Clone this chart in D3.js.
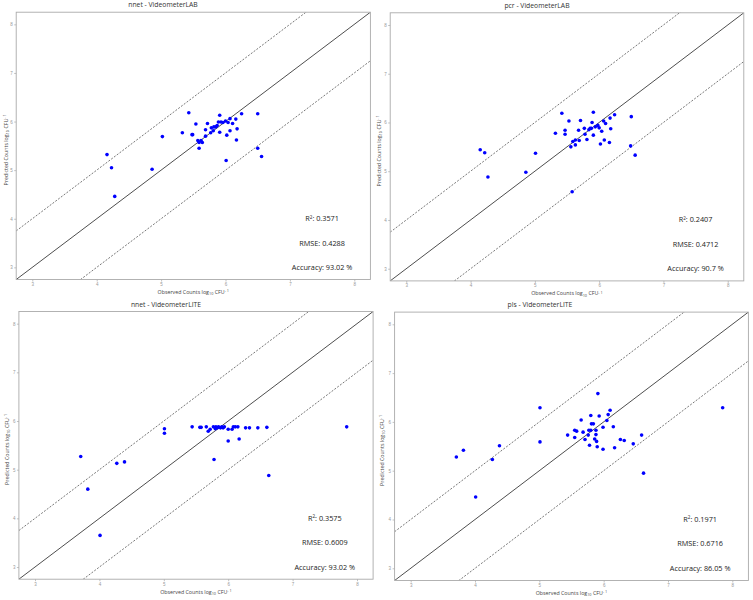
<!DOCTYPE html>
<html>
<head>
<meta charset="utf-8">
<script src="https://cdn.jsdelivr.net/npm/d3@7"></script>
<style>
  body { margin: 0; background: #fff; }
  svg { display: block; font-family: "Open Sans", "Noto Sans", sans-serif; }
</style>
</head>
<body>
<svg id="chart" width="753" height="600"></svg>
<script>
// observed / predicted values
var nnetLabObs  = [4.16,4.23,4.28,4.86,5.02,5.33,5.43,5.48,5.49,5.54,5.57,5.59,5.59,5.62,5.64,5.69,5.69,5.72,5.77,5.78,5.81,5.82,5.85,5.87,5.89,5.91,5.91,5.93,5.96,6.00,6.01,6.02,6.04,6.07,6.07,6.11,6.16,6.17,6.18,6.25,6.50,6.50,6.56];
var nnetLabPred = [5.32,5.05,4.46,5.02,5.69,5.77,6.18,5.73,5.73,5.95,5.61,5.57,5.45,5.61,5.57,5.70,5.83,5.96,5.77,5.87,5.81,5.89,5.89,5.92,5.99,6.13,5.78,5.99,5.98,6.01,5.20,5.72,5.98,6.06,5.81,5.96,6.05,5.62,5.85,6.16,6.16,5.45,5.28];

var pcrLabObs  = [4.15,4.22,4.27,4.86,5.01,5.32,5.42,5.47,5.47,5.53,5.56,5.59,5.63,5.63,5.68,5.69,5.71,5.77,5.78,5.81,5.84,5.86,5.88,5.89,5.91,5.91,5.94,5.98,6.00,6.02,6.04,6.07,6.08,6.10,6.17,6.16,6.18,6.24,6.50,6.49,6.56,5.58];
var pcrLabPred = [5.44,5.38,4.88,4.98,5.37,5.78,6.19,5.84,5.76,6.03,5.50,5.61,5.54,5.64,5.84,5.63,6.04,5.88,5.76,5.65,5.85,5.88,5.88,6.00,6.21,5.74,5.91,5.94,5.89,5.56,5.82,6.03,5.64,5.98,6.09,5.59,5.87,6.16,6.12,5.52,5.33,4.58];

var nnetLiteObs  = [3.71,3.82,4.01,4.27,4.39,5.01,5.01,5.44,5.56,5.58,5.66,5.69,5.72,5.77,5.78,5.80,5.81,5.83,5.85,5.88,5.90,5.92,5.94,6.00,6.00,6.06,6.08,6.11,6.15,6.17,6.27,6.33,6.46,6.60,6.63,7.84];
var nnetLitePred = [5.27,4.60,3.65,5.13,5.16,5.84,5.75,5.88,5.87,5.87,5.88,5.79,5.83,5.88,5.21,5.84,5.88,5.86,5.88,5.86,5.88,5.86,5.88,5.83,5.59,5.83,5.88,5.88,5.88,5.63,5.86,5.86,5.86,5.87,4.88,5.88];

var plsLiteObs  = [3.71,3.82,4.01,4.27,4.38,5.01,5.01,5.44,5.55,5.58,5.55,5.65,5.68,5.71,5.76,5.77,5.78,5.80,5.80,5.81,5.84,5.86,5.88,5.88,5.89,5.90,5.91,5.93,5.99,5.99,6.05,6.07,6.10,6.15,6.17,6.26,6.32,6.46,6.59,6.62,7.85];
var plsLitePred = [5.28,5.42,4.46,5.23,5.51,6.29,5.59,5.73,5.83,5.81,5.68,6.04,5.79,5.64,5.73,5.83,5.52,6.13,5.83,5.96,5.96,5.65,5.74,5.83,5.60,5.49,6.58,6.12,5.89,5.44,6.03,6.15,6.24,5.90,5.47,5.64,5.62,5.55,5.73,4.95,6.29];

var titles = ["nnet - VideometerLAB", "pcr - VideometerLAB", "nnet - VideometerLITE", "pls - VideometerLITE"];
var r2Values = ["0.3571", "0.2407", "0.3575", "0.1971"];
var rmseValues = ["0.4288", "0.4712", "0.6009", "0.6716"];
var accValues = ["93.02 %", "90.7 %", "93.02 %", "86.05 %"];
var tickValues = [3, 4, 5, 6, 7, 8];
var domain = [2.75, 8.25];
var bandOffsets = [-1, 0, 1];

var series = [
    [nnetLabObs, nnetLabPred],
    [pcrLabObs, pcrLabPred],
    [nnetLiteObs, nnetLitePred],
    [plsLiteObs, plsLitePred]
];

// panel frames (pixels)
var frames = [
    {x0: 16.2, x1: 370.4, y0: 12.2, y1: 279.5, tx: 163, ylx: 6},
    {x0: 390.2, x1: 743.8, y0: 12.8, y1: 280.9, tx: 537, ylx: 379},
    {x0: 18.9, x1: 373.1, y0: 311.5, y1: 579.2, tx: 166, ylx: 7},
    {x0: 394.6, x1: 748.4, y0: 312.1, y1: 580.5, tx: 540, ylx: 382}
];

var svg = d3.select("#chart");

frames.forEach(function (f, p) {
    var x = d3.scaleLinear().domain(domain).range([f.x0, f.x1]);
    var y = d3.scaleLinear().domain(domain).range([f.y1, f.y0]);
    var g = svg.append("g");

    g.append("clipPath").attr("id", "clip" + p)
        .append("rect")
        .attr("x", f.x0).attr("y", f.y0)
        .attr("width", f.x1 - f.x0).attr("height", f.y1 - f.y0);

    // axes
    var xAxis = g.append("g")
        .attr("transform", "translate(0," + f.y1 + ")")
        .call(d3.axisBottom(x).tickValues(tickValues).tickFormat(d3.format("d")).tickSize(2).tickPadding(1.2));
    var yAxis = g.append("g")
        .attr("transform", "translate(" + f.x0 + ",0)")
        .call(d3.axisLeft(y).tickValues(tickValues).tickFormat(d3.format("d")).tickSize(2).tickPadding(1.5));
    [xAxis, yAxis].forEach(function (a) {
        a.select(".domain").remove();
        a.selectAll("line").attr("stroke", "#999").attr("stroke-width", 0.6);
        a.selectAll("text").attr("fill", "#999").style("font-size", "4.5px");
    });

    // reference lines
    var line = d3.line()
        .x(function (d) { return x(d[0]); })
        .y(function (d) { return y(d[1]); });
    bandOffsets.forEach(function (o) {
        g.append("path")
            .datum([[domain[0], domain[0] + o], [domain[1], domain[1] + o]])
            .attr("clip-path", "url(#clip" + p + ")")
            .attr("d", line)
            .attr("fill", "none")
            .attr("stroke", o === 0 ? "#3a3a3a" : "#555")
            .attr("stroke-width", o === 0 ? 0.9 : 0.8)
            .attr("stroke-dasharray", o === 0 ? null : "2,1.5");
    });

    // points
    var obs = series[p][0], pred = series[p][1];
    g.selectAll("circle")
        .data(d3.range(obs.length))
        .enter().append("circle")
        .attr("cx", function (i) { return x(obs[i]); })
        .attr("cy", function (i) { return y(pred[i]); })
        .attr("r", 1.8)
        .attr("fill", "#0000ff");

    // frame
    g.append("rect")
        .attr("x", f.x0).attr("y", f.y0)
        .attr("width", f.x1 - f.x0).attr("height", f.y1 - f.y0)
        .attr("fill", "none").attr("stroke", "#aaa").attr("stroke-width", 0.9);

    // title
    g.append("text")
        .attr("x", f.tx).attr("y", f.y0 - 5)
        .attr("text-anchor", "middle")
        .style("font-size", "6.8px").style("fill", "#333")
        .text(titles[p]);

    // stats
    function statText(v) {
        return g.append("text")
            .attr("x", x(7.5)).attr("y", y(v) + 2.5)
            .attr("text-anchor", "middle")
            .style("font-size", "7.3px").style("fill", "#222");
    }
    var t1 = statText(4);
    t1.append("tspan").text("R");
    t1.append("tspan").attr("dy", -2.7).style("font-size", "4.6px").text("2");
    t1.append("tspan").attr("dy", 2.7).text(": " + r2Values[p]);
    statText(3.5).text("RMSE: " + rmseValues[p]);
    statText(3).text("Accuracy: " + accValues[p]);

    // axis labels
    function axisLabel(t, first) {
        t.style("font-size", "5.3px").style("fill", "#444").attr("text-anchor", "middle");
        t.append("tspan").text(first + " Counts log");
        t.append("tspan").attr("dy", 1.2).style("font-size", "3.8px").text("10");
        t.append("tspan").attr("dy", -1.2).text(" CFU");
        t.append("tspan").attr("dy", -1.8).style("font-size", "3.8px").text("- 1");
    }
    var xl = g.append("text")
        .attr("x", (f.x0 + f.x1) / 2).attr("y", f.y1 + 14.5);
    axisLabel(xl, "Observed");

    var yl = g.append("text")
        .attr("transform", "translate(" + (f.ylx + 1.8) + "," + ((f.y0 + f.y1) / 2 + 4) + ") rotate(-90)");
    axisLabel(yl, "Predicted");
});
</script>
</body>
</html>
